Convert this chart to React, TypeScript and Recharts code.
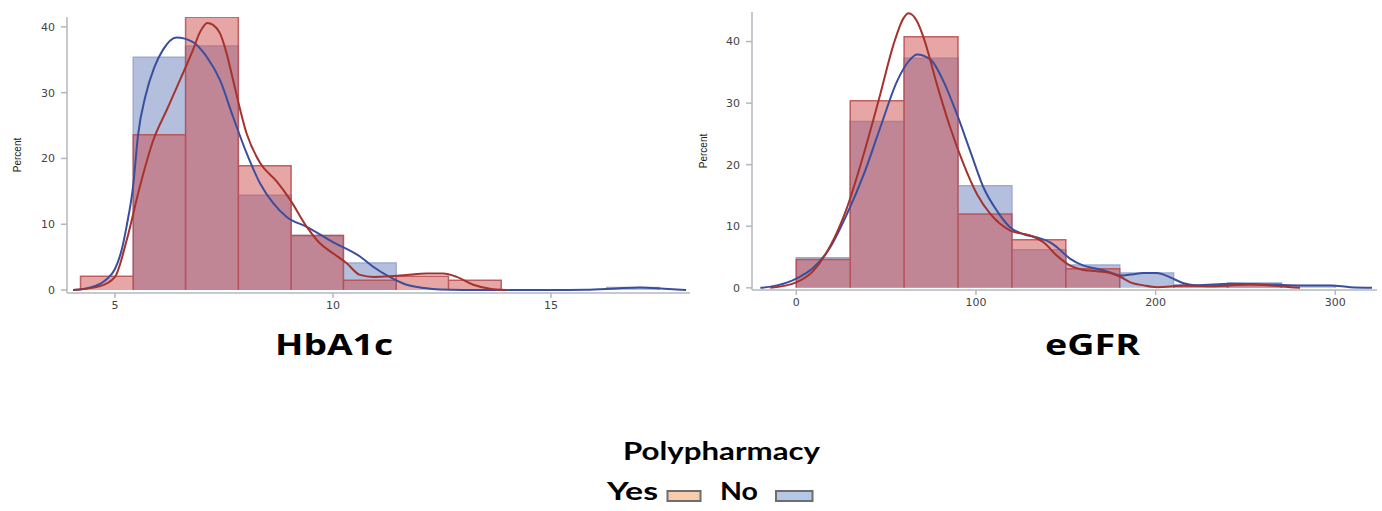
import React from 'react';
import { ComposedChart, Area, Line, XAxis, YAxis } from 'recharts';

// ---------- HbA1c ----------
const hba1cBinEdges = [4.21, 5.42, 6.62, 7.83, 9.04, 10.24, 11.45, 12.65, 13.86, 15.07, 16.28, 17.48];
const hba1cYesPct = [2.1, 23.6, 41.5, 18.9, 8.3, 1.5, 2.1, 1.5, 0, 0, 0];
const hba1cNoPct = [0, 35.4, 37.1, 14.4, 8.3, 4.1, 0, 0, 0, 0, 0.4];
const hba1cXTicks = [5, 10, 15];
const hba1cYTicks = [0, 10, 20, 30, 40];

const hba1cNoKdeX = [4.04, 4.5, 4.8, 5.0, 5.15, 5.27, 5.42, 5.53, 5.7, 5.9, 6.1, 6.41, 6.79, 7.1, 7.41, 7.71, 8.02, 8.33, 8.63, 8.94, 9.4, 10.0, 10.62, 10.93, 11.3, 11.69, 12.1, 12.45, 13.5, 15.0, 15.8, 16.5, 17.04, 17.6, 18.1];
const hba1cNoKdeY = [0, 0.5, 1.6, 3.2, 6.0, 9.8, 16, 23.6, 29.5, 33.8, 36.5, 38.4, 37.7, 35.5, 31.9, 26.3, 20.8, 16.2, 13.2, 11.1, 9.6, 7.3, 5.1, 3.5, 2.0, 0.8, 0.3, 0.1, 0, 0, 0.05, 0.25, 0.4, 0.2, 0];
const hba1cYesKdeX = [4.04, 4.66, 5.0, 5.27, 5.57, 5.88, 6.19, 6.49, 6.79, 6.95, 7.12, 7.25, 7.41, 7.56, 7.71, 8.02, 8.33, 8.71, 9.02, 9.4, 9.7, 10.0, 10.31, 10.62, 10.93, 11.31, 11.69, 12.15, 12.53, 12.84, 13.22, 13.6, 13.98];
const hba1cYesKdeY = [0, 0.6, 2.0, 7.6, 15.7, 22.8, 27.4, 31.9, 36.5, 39.2, 40.6, 40.3, 39.0, 36.0, 31.9, 23.8, 19.3, 16.5, 13.7, 9.6, 7.1, 5.6, 4.1, 2.3, 2.0, 2.1, 2.3, 2.5, 2.5, 2.0, 0.8, 0.2, 0];

// ---------- eGFR ----------
const egfrBinEdges = [0, 30, 60, 90, 120, 150, 180, 210, 240, 270, 300];
const egfrYesPct = [4.6, 30.4, 40.8, 12.0, 7.8, 3.1, 0, 0.3, 0.6, 0];
const egfrNoPct = [4.9, 27.0, 37.3, 16.6, 6.2, 3.7, 2.4, 0.5, 0.8, 0.4];
const egfrXTicks = [0, 100, 200, 300];
const egfrYTicks = [0, 10, 20, 30, 40];

const egfrNoKdeX = [-20, -10.7, 0, 9.6, 18.9, 28.2, 37.5, 46.7, 56.0, 63.4, 67.2, 74.6, 82.0, 89.4, 96.8, 104.2, 111.7, 119.1, 126.5, 133.9, 141.3, 145.1, 152.5, 159.9, 167.3, 174.7, 180.3, 185.9, 193.3, 200.7, 208.1, 215.5, 222.9, 241.5, 260, 278.6, 297.2, 308.3, 320.4];
const egfrNoKdeY = [0, 0.4, 1.5, 3.3, 6.6, 12.0, 18.4, 26.0, 33.5, 37.1, 37.9, 37.1, 33.5, 28.2, 22.2, 16.3, 12.5, 9.8, 8.7, 8.2, 7.4, 6.6, 4.7, 3.6, 3.1, 2.5, 2.0, 2.15, 2.4, 2.4, 1.7, 0.75, 0.4, 0.65, 0.55, 0.4, 0.4, 0.1, 0];
const egfrYesKdeX = [-14.5, 0, 9.6, 18.9, 28.2, 37.5, 46.7, 54.1, 59.7, 62.5, 67.2, 70.9, 78.3, 85.7, 93.1, 100.6, 108.0, 119.1, 130.2, 137.6, 145.1, 152.5, 159.9, 167.3, 174.7, 180.3, 185.9, 193.3, 200.7, 208.1, 215.5, 230.4, 241.5, 252.6, 263.8, 274.9, 280.4];
const egfrYesKdeY = [0, 0.9, 2.8, 6.8, 13.0, 21.7, 31.4, 39.5, 43.8, 44.6, 43.3, 40.6, 33.0, 26.0, 20.1, 15.2, 12.0, 9.3, 8.5, 7.4, 5.2, 3.6, 2.9, 2.7, 2.4, 1.8, 0.9, 0.4, 0.1, 0.2, 0.4, 0.25, 0.4, 0.55, 0.4, 0.1, 0];

// ---------- legend / titles ----------
const legendTitle = 'Polypharmacy';
const legendLabels = ['Yes', 'No'];
const chartTitles = ['HbA1c', 'eGFR'];

type Pt = { x: number; y: number | null };

function histPoints(edges: number[], values: number[]): Pt[] {
  const pts: Pt[] = [];
  let prevEnd: number | null = null;
  values.forEach((v, i) => {
    if (v <= 0) return;
    const x0 = edges[i];
    const x1 = edges[i + 1];
    if (prevEnd !== null && prevEnd !== i) {
      pts.push({ x: (edges[prevEnd] + x0) / 2, y: null });
    }
    pts.push({ x: x0, y: 0 }, { x: x0, y: v }, { x: x1, y: v }, { x: x1, y: 0 });
    prevEnd = i + 1;
  });
  return pts;
}

function zip(xs: number[], ys: number[]): Pt[] {
  return xs.map((x, i) => ({ x, y: ys[i] }));
}

const AXIS_COLOR = '#b3b8bf';
const TICK_TEXT = { fill: '#444', fontSize: 11, fontFamily: 'DejaVu Sans, sans-serif' };

type ChartProps = {
  left: number;
  width: number;
  height: number;
  top: number;
  right: number;
  yAxisWidth: number;
  xDomain: [number, number];
  xTicks: number[];
  yDomain: [number, number];
  yTicks: number[];
  yesHist: Pt[];
  noHist: Pt[];
  yesKde: Pt[];
  noKde: Pt[];
  labelOffset: number;
};

function HistChart(p: ChartProps) {
  return (
    <div style={{ position: 'absolute', left: p.left, top: 0 }}>
      <ComposedChart width={p.width} height={p.height} margin={{ top: p.top, right: p.right, bottom: 0, left: 0 }}>
        <XAxis
          type="number"
          dataKey="x"
          domain={p.xDomain}
          ticks={p.xTicks}
          allowDataOverflow
          height={30}
          stroke={AXIS_COLOR}
          strokeWidth={1.5}
          tickSize={5}
          tickMargin={3}
          tick={TICK_TEXT}
        />
        <YAxis
          type="number"
          domain={p.yDomain}
          ticks={p.yTicks}
          allowDataOverflow
          width={p.yAxisWidth}
          stroke={AXIS_COLOR}
          strokeWidth={1.5}
          tickSize={6}
          tickMargin={6}
          tick={TICK_TEXT}
          label={{
            value: 'Percent',
            angle: -90,
            position: 'insideLeft',
            offset: p.labelOffset,
            style: { textAnchor: 'middle', fontSize: 10, fill: '#222', fontFamily: 'Liberation Sans, Arial, sans-serif' },
          }}
        />
        <Area
          data={p.noHist}
          dataKey="y"
          type="linear"
          baseValue={0}
          fill="#677fbb"
          fillOpacity={0.5}
          stroke="#9dabd3"
          strokeWidth={1.5}
          dot={false}
          activeDot={false}
          connectNulls={false}
          isAnimationActive={false}
        />
        <Area
          data={p.yesHist}
          dataKey="y"
          type="linear"
          baseValue={0}
          fill="#cd4d4d"
          fillOpacity={0.5}
          stroke="#b84a4d"
          strokeOpacity={0.85}
          strokeWidth={1.5}
          dot={false}
          activeDot={false}
          connectNulls={false}
          isAnimationActive={false}
        />
        <Line
          data={p.noKde}
          dataKey="y"
          type="monotone"
          stroke="#3a4e9e"
          strokeWidth={2}
          dot={false}
          activeDot={false}
          isAnimationActive={false}
        />
        <Line
          data={p.yesKde}
          dataKey="y"
          type="monotone"
          stroke="#a5322c"
          strokeWidth={2}
          dot={false}
          activeDot={false}
          isAnimationActive={false}
        />
      </ComposedChart>
    </div>
  );
}

export default function App() {
  return (
    <div
      style={{
        position: 'absolute',
        left: 0,
        top: 0,
        width: 1382,
        height: 511,
        overflow: 'hidden',
        background: '#fff',
      }}
    >
      <HistChart
        left={0}
        width={700}
        height={323}
        top={17}
        right={10}
        yAxisWidth={67}
        xDomain={[3.9, 18.19]}
        xTicks={hba1cXTicks}
        yDomain={[-0.45, 41.5]}
        yTicks={hba1cYTicks}
        yesHist={histPoints(hba1cBinEdges, hba1cYesPct)}
        noHist={histPoints(hba1cBinEdges, hba1cNoPct)}
        yesKde={zip(hba1cYesKdeX, hba1cYesKdeY)}
        noKde={zip(hba1cNoKdeX, hba1cNoKdeY)}
        labelOffset={17}
      />
      <HistChart
        left={690}
        width={692}
        height={320}
        top={12}
        right={5}
        yAxisWidth={62}
        xDomain={[-24.65, 323.2]}
        xTicks={egfrXTicks}
        yDomain={[-0.35, 44.8]}
        yTicks={egfrYTicks}
        yesHist={histPoints(egfrBinEdges, egfrYesPct)}
        noHist={histPoints(egfrBinEdges, egfrNoPct)}
        yesKde={zip(egfrYesKdeX, egfrYesKdeY)}
        noKde={zip(egfrNoKdeX, egfrNoKdeY)}
        labelOffset={13}
      />
      <svg
        width={1382}
        height={511}
        style={{ position: 'absolute', left: 0, top: 0, pointerEvents: 'none' }}
      >
        <text
          x={334}
          y={355}
          textAnchor="middle"
          fontSize={28}
          fontWeight={700}
          fontFamily="'Open Sans', sans-serif"
          textLength={118}
          lengthAdjust="spacingAndGlyphs"
          fill="#000"
        >
          {chartTitles[0]}
        </text>
        <text
          x={1092.5}
          y={355}
          textAnchor="middle"
          fontSize={28}
          fontWeight={700}
          fontFamily="'Open Sans', sans-serif"
          textLength={95}
          lengthAdjust="spacingAndGlyphs"
          fill="#000"
        >
          {chartTitles[1]}
        </text>
        <text
          x={721.5}
          y={460}
          textAnchor="middle"
          fontSize={25}
          fontWeight={700}
          fontFamily="Lato, sans-serif"
          textLength={197}
          lengthAdjust="spacingAndGlyphs"
          fill="#000"
        >
          {legendTitle}
        </text>
        <text
          x={607}
          y={500}
          fontSize={24}
          fontWeight={700}
          fontFamily="Lato, sans-serif"
          textLength={51}
          lengthAdjust="spacingAndGlyphs"
          fill="#000"
        >
          {legendLabels[0]}
        </text>
        <rect x={667.5} y={491} width={33} height={10} fill="#f8cbad" stroke="#6e6e6e" strokeWidth={2} />
        <text
          x={720}
          y={500}
          fontSize={24}
          fontWeight={700}
          fontFamily="Lato, sans-serif"
          textLength={38}
          lengthAdjust="spacingAndGlyphs"
          fill="#000"
        >
          {legendLabels[1]}
        </text>
        <rect x={776} y={491} width={36.5} height={10} fill="#b4c7e7" stroke="#6e6e6e" strokeWidth={2} />
      </svg>
    </div>
  );
}
